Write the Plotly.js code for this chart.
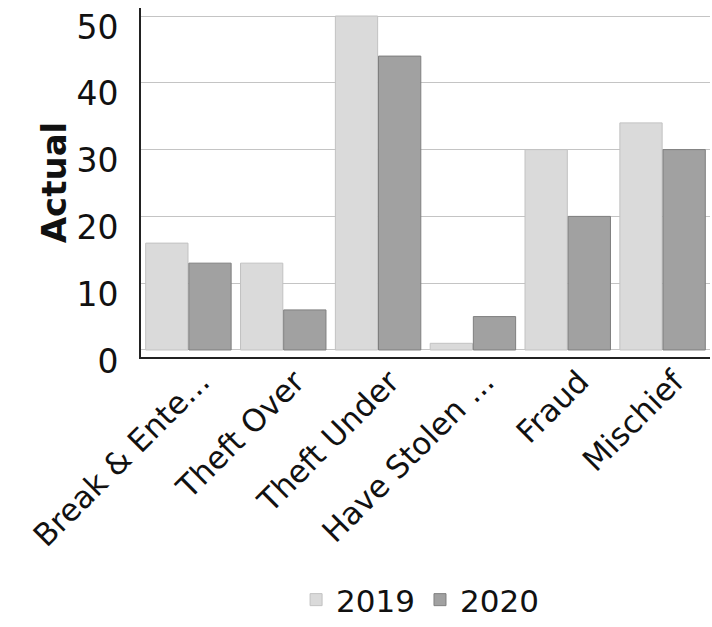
<!DOCTYPE html>
<html>
<head>
<meta charset="utf-8">
<script src="https://cdn.plot.ly/plotly-3.0.1.min.js"></script>
<style>html,body{margin:0;padding:0;background:#fff;}#chart{width:712px;height:627px;}</style>
</head>
<body>
<div id="chart"></div>
<script>
const categories = ["Break & Ente...", "Theft Over", "Theft Under", "Have Stolen ...", "Fraud", "Mischief"];
const seriesNames = ["2019", "2020"];
const values2019 = [16, 13, 50, 1, 30, 34];
const values2020 = [13, 6, 44, 5, 20, 30];
const yTicks = [0, 10, 20, 30, 40, 50];

const FONT = "'DejaVu Sans', Verdana, sans-serif";

const traces = [
  {type: "bar", name: seriesNames[0], x: categories, y: values2019,
   marker: {color: "#dadada", line: {color: "#c2c2c2", width: 1}}},
  {type: "bar", name: seriesNames[1], x: categories, y: values2020,
   marker: {color: "#a1a1a1", line: {color: "#7f7f7f", width: 1}}}
];

const layout = {
  width: 712, height: 627,
  margin: {l: 141, r: 2, t: 8, b: 270},
  paper_bgcolor: "#ffffff", plot_bgcolor: "#ffffff",
  barmode: "group", bargap: 0.09, bargroupgap: 0.02,
  font: {family: FONT, color: "#111111", size: 30},
  xaxis: {
    type: "category", tickangle: -45, tickfont: {size: 31, family: FONT, color: "#111"},
    showline: true, linecolor: "#222", linewidth: 2, ticks: "", showgrid: false,
    ticklabelshift: 12, ticklabelstandoff: -8,
    automargin: false
  },
  yaxis: {
    range: [-1.05, 51.2], tickvals: yTicks, ticktext: yTicks.map(String),
    tickfont: {size: 33, family: FONT, color: "#111"},
    showline: true, linecolor: "#222", linewidth: 2, ticks: "",
    gridcolor: "#c4c4c4", gridwidth: 1, zeroline: false,
    ticklabelstandoff: 14, ticklabelshift: 11, ticklabeloverflow: "allow",
    title: {text: "<b>Actual</b>", font: {size: 34, family: FONT, color: "#111"}, standoff: 0},
    automargin: false
  },
  showlegend: true,
  legend: {orientation: "h", xref: "container", yref: "container", x: 0.59, xanchor: "center", y: -0.005, yanchor: "bottom",
           font: {size: 31, family: FONT, color: "#111"}, itemwidth: 30, bgcolor: "rgba(0,0,0,0)"}
};

Plotly.newPlot("chart", traces, layout, {displayModeBar: false, staticPlot: true});
</script>
</body>
</html>
